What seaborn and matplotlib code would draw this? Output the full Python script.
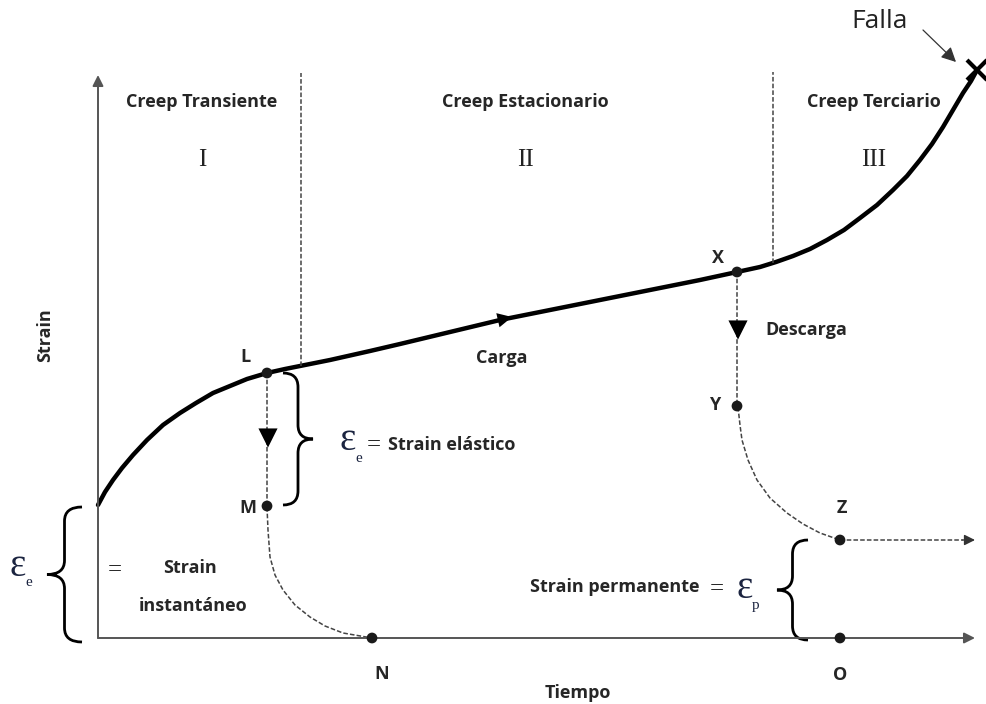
import numpy as np
import pandas as pd
import matplotlib
matplotlib.use("Agg")
import matplotlib.pyplot as plt
import seaborn as sns
from matplotlib.path import Path
from matplotlib.patches import PathPatch

# Creep curve (time, strain in picture units, origin at the axes corner)
primary_t = [0, 7, 15, 24, 35, 49, 65, 82, 98, 115, 132, 149, 169]
primary_s = [133, 146, 158, 170, 183, 198, 213, 225, 235, 245, 252, 259, 265]
secondary_t = [187, 202, 232, 272, 302, 352, 402, 452, 502, 552, 602, 639]
secondary_s = [269, 272, 278, 287, 294, 306, 318, 328, 338, 348, 358, 366]
tertiary_t = [662, 678, 695, 712, 729, 746, 762, 779, 795, 809, 822, 834, 845, 855, 865, 873, 879]
tertiary_s = [371, 376, 382, 389, 398, 408, 420, 433, 448, 462, 478, 494, 511, 528, 545, 557, 568]

# recovery after unloading at L and at X
recov_lm_t = [169, 170, 172, 177, 185, 197, 212, 227, 245, 274]
recov_lm_s = [131, 108, 81, 63, 48, 33, 21, 12, 5, 0]
recov_yz_t = [640, 642, 644, 650, 659, 672, 689, 705, 722, 742]
recov_yz_s = [231, 213, 198, 178, 158, 140, 125, 114, 105, 98]

# labelled points
point_names = ["L", "M", "N", "X", "Y", "Z", "O"]
point_t = [169, 169, 274, 639, 639, 742, 742]
point_s = [265, 132, 0, 366, 232, 98, 0]

# stage boundaries and stage labels
stage_bounds = [203, 675]
stage_names = ["Creep Transiente", "Creep Estacionario", "Creep Terciario"]
stage_numerals = ["I", "II", "III"]
stage_centers = [104, 427, 776]

T_END = 877
S_TOP = 563

sns.set_style("white")
BOLD = ["Open Sans", "DejaVu Sans"]
SERIF = ["Liberation Serif", "DejaVu Serif"]
EPS_COLOR = "#1b2440"
FS = 13

fig = plt.figure(figsize=(9.87, 7.04), dpi=100)
ax = fig.add_axes([0, 0, 1, 1])
ax.set_xlim(-98, 889)
ax.set_ylim(-66, 638)
ax.axis("off")

# axes with arrow heads
axis_kw = dict(arrowstyle="-|>", color="#555555", lw=1.4, mutation_scale=16, shrinkA=0, shrinkB=0)
ax.annotate("", xy=(0, S_TOP), xytext=(0, 0), arrowprops=axis_kw)
ax.annotate("", xy=(T_END, 0), xytext=(0, 0), arrowprops=axis_kw)

# main loading curve
curve = pd.DataFrame({
    "t": primary_t + secondary_t + tertiary_t,
    "s": primary_s + secondary_s + tertiary_s,
})
sns.lineplot(data=curve, x="t", y="s", sort=False, estimator=None, color="black", lw=3.2,
             solid_capstyle="round", solid_joinstyle="round", ax=ax)

# failure mark and arrow
ax.plot(tertiary_t[-1], tertiary_s[-1], marker="x", ms=15, mew=3, color="black")
ax.annotate("", xy=(858, 576), xytext=(825, 608),
            arrowprops=dict(arrowstyle="-|>", color="#333333", lw=0.9, mutation_scale=22,
                            shrinkA=0, shrinkB=0))
ax.text(782, 616, "Falla", family=BOLD, fontsize=19, ha="center", va="center", color="#222222")

# load direction arrow on the steady stage
ax.annotate("", xy=(414, 321), xytext=(392, 316),
            arrowprops=dict(arrowstyle="-|>", color="black", lw=0, mutation_scale=26,
                            shrinkA=0, shrinkB=0))

dash_kw = dict(color="#444444", lw=1.1, linestyle=(0, (3, 1.4)))

# stage boundaries
for tb, top in zip(stage_bounds, [565, 566]):
    s_curve = np.interp(tb, curve["t"], curve["s"])
    ax.plot([tb, tb], [s_curve, top], **dash_kw)

# unloading and recovery paths
ax.plot([point_t[0], point_t[1]], [point_s[0], point_s[1]], **dash_kw)
ax.plot([point_t[3], point_t[4]], [point_s[3], point_s[4]], **dash_kw)
sns.lineplot(x=recov_lm_t, y=recov_lm_s, sort=False, estimator=None, ax=ax, **dash_kw)
sns.lineplot(x=recov_yz_t, y=recov_yz_s, sort=False, estimator=None, ax=ax, **dash_kw)
ax.plot([point_t[5], T_END - 12], [point_s[5], point_s[5]], **dash_kw)
ax.annotate("", xy=(T_END, point_s[5]), xytext=(T_END - 12, point_s[5]),
            arrowprops=dict(arrowstyle="-|>", color="#333333", lw=1, mutation_scale=16,
                            shrinkA=0, shrinkB=0))

# downward arrows on the unloading lines
sns.scatterplot(x=[170, 640], y=[200, 308], marker="v", s=190, color="black",
                edgecolor="none", ax=ax, zorder=5)

# points
sns.scatterplot(x=point_t, y=point_s, s=60, color="#1a1a1a", edgecolor="none", ax=ax, zorder=6)

label_pos = {"L": (147, 281), "M": (150, 130), "N": (284, -36), "X": (620, 380),
             "Y": (617, 233), "Z": (744, 130), "O": (742, -37)}
for name in point_names:
    lx, ly = label_pos[name]
    ax.text(lx, ly, name, family=BOLD, weight="bold", fontsize=FS, ha="center", va="center")

# stage titles
for name, num, xc in zip(stage_names, stage_numerals, stage_centers):
    ax.text(xc, 536, name, family=BOLD, weight="bold", fontsize=FS, ha="center", va="center")
    ax.text(xc, 478, num, family=SERIF, fontsize=18, ha="center", va="center", color="#222222")

ax.text(404, 280, "Carga", family=BOLD, weight="bold", fontsize=FS, ha="center", va="center")
ax.text(708, 308, "Descarga", family=BOLD, weight="bold", fontsize=FS, ha="center", va="center")
ax.text(-53, 303, "Strain", family=BOLD, weight="bold", fontsize=FS, rotation=90,
        ha="center", va="center")
ax.text(480, -55, "Tiempo", family=BOLD, weight="bold", fontsize=FS, ha="center", va="center")


def brace(x_end, x_tip, y0, y1, r=14):
    xs = (x_end + x_tip) / 2
    ym = (y0 + y1) / 2
    sg = 1 if y1 > y0 else -1
    verts = [(x_end, y0), (xs, y0), (xs, y0 + sg * r),
             (xs, ym - sg * r),
             (xs, ym), (x_tip, ym),
             (xs, ym), (xs, ym + sg * r),
             (xs, y1 - sg * r),
             (xs, y1), (x_end, y1)]
    codes = [Path.MOVETO, Path.CURVE3, Path.CURVE3, Path.LINETO, Path.CURVE3, Path.CURVE3,
             Path.CURVE3, Path.CURVE3, Path.LINETO, Path.CURVE3, Path.CURVE3]
    ax.add_patch(PathPatch(Path(verts, codes), fill=False, lw=2, color="black"))


def epsilon(x, y, sub):
    ax.text(x, y, "ε", family=SERIF, fontsize=28, ha="center", va="center", color=EPS_COLOR)
    ax.text(x + 11, y - 17, sub, family=SERIF, fontsize=11, ha="center", va="center",
            color=EPS_COLOR)


# instantaneous strain
brace(-16, -51, 131, -4)
epsilon(-80, 72, "e")
ax.text(17, 68, "=", family=SERIF, fontsize=18, ha="center", va="center")
ax.text(92, 70, "Strain", family=BOLD, weight="bold", fontsize=FS, ha="center", va="center")
ax.text(95, 32, "instantáneo", family=BOLD, weight="bold", fontsize=FS, ha="center", va="center")

# elastic strain
brace(185, 215, 265, 133)
epsilon(250, 197, "e")
ax.text(276, 193, "=", family=SERIF, fontsize=18, ha="center", va="center")
ax.text(290, 193, "Strain elástico", family=BOLD, weight="bold", fontsize=FS,
        ha="left", va="center")

# permanent strain
brace(710, 679, 98, -2)
ax.text(602, 51, "Strain permanente", family=BOLD, weight="bold", fontsize=FS,
        ha="right", va="center")
ax.text(619, 49, "=", family=SERIF, fontsize=18, ha="center", va="center")
epsilon(647, 50, "p")

fig.savefig("out.png", dpi=100, facecolor="white")
